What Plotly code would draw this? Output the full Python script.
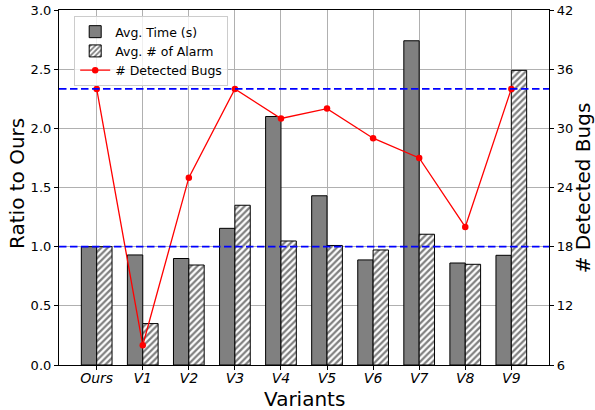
import plotly.graph_objects as go

categories = ["Ours", "V1", "V2", "V3", "V4", "V5", "V6", "V7", "V8", "V9"]
avg_time = [1.0, 0.93, 0.90, 1.155, 2.10, 1.43, 0.888, 2.74, 0.862, 0.927]
avg_alarm = [1.0, 0.35, 0.845, 1.35, 1.048, 1.01, 0.972, 1.105, 0.851, 2.49]
detected_bugs = [34, 8, 25, 34, 31, 32, 29, 27, 20, 34]
ref_ratio = 1.0
ref_bugs = 34
left_ticks = [0.0, 0.5, 1.0, 1.5, 2.0, 2.5, 3.0]
right_ticks = [6, 12, 18, 24, 30, 36, 42]

FONT = "DejaVu Sans"
bw = 1 / 3

fig = go.Figure()
fig.add_trace(go.Bar(
    x=categories, y=avg_time, name="Avg. Time (s)",
    width=bw, offset=-bw,
    marker=dict(color="#808080", line=dict(color="black", width=1)),
))
fig.add_trace(go.Bar(
    x=categories, y=avg_alarm, name="Avg. # of Alarm",
    width=bw, offset=0,
    marker=dict(color="white", line=dict(color="black", width=1),
                pattern=dict(shape="/", fgcolor="black", bgcolor="white",
                             size=4.5, solidity=0.5)),
))
fig.add_trace(go.Scatter(
    x=categories, y=detected_bugs, name="# Detected Bugs", yaxis="y2",
    mode="lines+markers",
    line=dict(color="red", width=1.3),
    marker=dict(color="red", size=6.5),
))

fig.add_shape(type="line", xref="paper", x0=0, x1=1, yref="y",
              y0=ref_ratio, y1=ref_ratio, layer="above",
              line=dict(color="blue", width=1.8, dash="7.5px,3.5px"))
fig.add_shape(type="line", xref="paper", x0=0, x1=1, yref="y2",
              y0=ref_bugs, y1=ref_bugs, layer="above",
              line=dict(color="blue", width=1.8, dash="7.5px,3.5px"))

fig.add_annotation(text="Ratio to Ours", xref="paper", yref="paper",
                   x=-0.0857, y=0.51, textangle=-90, showarrow=False,
                   xanchor="center", yanchor="middle", font=dict(size=20))
fig.add_annotation(text="# Detected Bugs", xref="paper", yref="paper",
                   x=1.069, y=0.5, textangle=-90, showarrow=False,
                   xanchor="center", yanchor="middle", font=dict(size=20))
fig.add_annotation(text="Variants", xref="paper", yref="paper",
                   x=0.5, y=-0.095, showarrow=False,
                   xanchor="center", yanchor="middle", font=dict(size=20))

fig.update_layout(
    width=595, height=410,
    margin=dict(l=59, r=46, t=10, b=45, autoexpand=False),
    plot_bgcolor="white", paper_bgcolor="white",
    font=dict(family=FONT, size=13, color="black"),
    barmode="overlay",
    showlegend=True,
    legend=dict(x=0.031, y=0.983, xanchor="left", yanchor="top",
                bgcolor="rgba(255,255,255,0.8)", bordercolor="#cccccc",
                borderwidth=1, font=dict(family=FONT, size=12.5),
                tracegroupgap=0),
    xaxis=dict(
        type="category", range=[-0.818, 9.818], automargin=False,
        tickfont=dict(size=14, style="italic"), ticklabelstandoff=-4,
        showline=True, linecolor="black", linewidth=1.2, mirror=True,
        ticks="outside", ticklen=4, tickcolor="black",
        showgrid=True, gridcolor="#b0b0b0", gridwidth=0.8,
    ),
    yaxis=dict(
        range=[0, 3.0], tickvals=left_ticks, automargin=False,
        ticktext=[f"{v:.1f}" for v in left_ticks],
        showline=True, linecolor="black", linewidth=1.2, mirror=True,
        ticks="outside", ticklen=4, tickcolor="black",
        showgrid=True, gridcolor="#b0b0b0", gridwidth=0.8,
        zeroline=False,
    ),
    yaxis2=dict(
        range=[6, 42], tickvals=right_ticks, overlaying="y", side="right",
        automargin=False,
        showline=True, linecolor="black", linewidth=1.2,
        ticks="outside", ticklen=4, tickcolor="black",
        showgrid=False, zeroline=False,
    ),
)

fig.write_html(
    "out.html",
    config={"displayModeBar": False},
    post_script="document.body.style.margin='0';document.body.style.overflow='hidden';",
)
